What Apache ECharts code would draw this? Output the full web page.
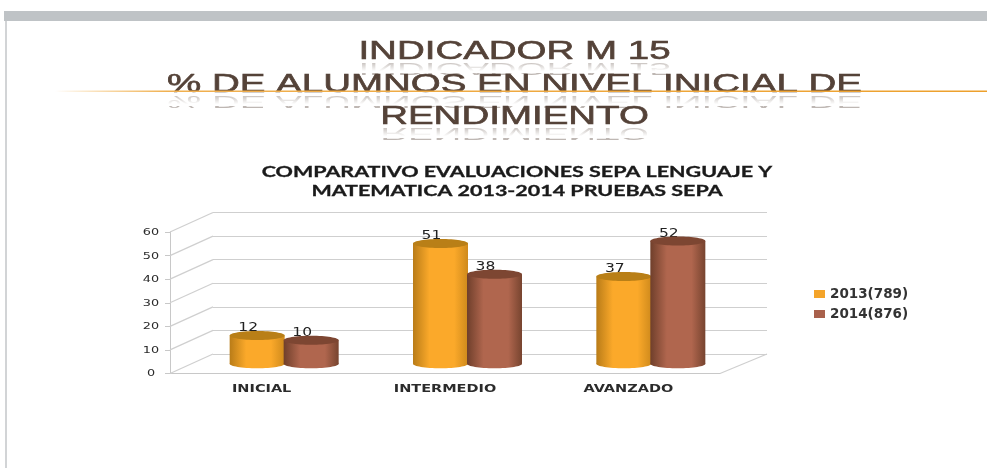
<!DOCTYPE html>
<html>
<head>
<meta charset="utf-8">
<style>
  html, body { margin: 0; padding: 0; background: #fff; }
  #chart { width: 987px; height: 468px; }
</style>
<script src="https://cdn.jsdelivr.net/npm/echarts@6/dist/echarts.min.js"></script>
</head>
<body>
<div id="chart"></div>
<script>
var categories = ['INICIAL', 'INTERMEDIO', 'AVANZADO']
var values2013 = [12, 51, 37]
var values2014 = [10, 38, 52]
var yTicks = [0, 10, 20, 30, 40, 50, 60]
var titleLines = ['INDICADOR M 15', '% DE ALUMNOS EN NIVEL INICIAL DE', 'RENDIMIENTO']
var subtitleLines = ['COMPARATIVO EVALUACIONES SEPA LENGUAJE Y', 'MATEMATICA 2013-2014 PRUEBAS SEPA']

// depth of the fake 3d floor
var DEPTH_X = 43
var DEPTH_Y = 19.5
var TITLE_FONT = '26px "Liberation Sans"'
var TITLE_COLOR = '#544238'
var LABEL_COLOR = '#2b2b2b'

function cylinder(side, colors, topColor) {
  return function (params, api) {
    var x = api.coord([api.value(0), 0])[0] + DEPTH_X / 2 + 1 + side * 27
    var y0 = api.coord([api.value(0), 0])[1] - DEPTH_Y / 2
    var y1 = api.coord([api.value(0), api.value(1)])[1] - DEPTH_Y / 2
    var fill = new echarts.graphic.LinearGradient(0, 0, 1, 0, [
      { offset: 0, color: colors[0] },
      { offset: 0.3, color: colors[1] },
      { offset: 0.75, color: colors[1] },
      { offset: 1, color: colors[2] }
    ])
    return {
      type: 'group',
      children: [
        { type: 'text', x: x - 9, y: y1 - 7, scaleX: 1.35, style: { x: 0, y: 0, text: String(api.value(1)), font: '11.5px "DejaVu Sans"', fill: '#222', align: 'center', verticalAlign: 'middle' } },
        { type: 'ellipse', shape: { cx: x, cy: y0, rx: 27.5, ry: 4.5 }, style: { fill: fill } },
        { type: 'rect', shape: { x: x - 27.5, y: y1, width: 55, height: y0 - y1 }, style: { fill: fill } },
        { type: 'ellipse', shape: { cx: x, cy: y1, rx: 27.5, ry: 4.5 }, style: { fill: topColor } }
      ]
    }
  }
}

// diagonal floor/side lines plus the stretched y tick labels
function depthLines(params, api) {
  var rect = params.coordSys
  var y = api.coord([0, api.value(0)])[1]
  var items = [
    {
      type: 'line',
      shape: { x1: rect.x, y1: y, x2: rect.x + DEPTH_X, y2: y - DEPTH_Y },
      style: { stroke: '#cfcfcf', lineWidth: 1.2 }
    },
    {
      type: 'text', x: 151, y: y + 0.5, scaleX: 1.35,
      style: { x: 0, y: 0, text: String(api.value(0)), font: '9.5px "DejaVu Sans"', fill: LABEL_COLOR, align: 'center', verticalAlign: 'middle' }
    }
  ]
  if (api.value(0) === 0) {
    items.push({
      type: 'line',
      shape: { x1: rect.x + rect.width, y1: y, x2: rect.x + rect.width + DEPTH_X + 4, y2: y - DEPTH_Y },
      style: { stroke: '#cfcfcf', lineWidth: 1.2 }
    })
  }
  return { type: 'group', children: items }
}

function categoryLabel(params, api) {
  var p = api.coord([api.value(0), 0])
  return {
    type: 'text', x: p[0], y: p[1] + 16, scaleX: 1.38,
    style: { x: 0, y: 0, text: categories[api.value(0)], font: 'bold 10.5px "DejaVu Sans"', fill: LABEL_COLOR, align: 'center', verticalAlign: 'middle' }
  }
}

function titleGraphics() {
  var baselines = [61, 94, 126]
  var out = []
  titleLines.forEach(function (text, i) {
    // reflection under the line, faded out by a white gradient on top
    out.push({
      type: 'text', x: 514.5, y: baselines[i] + 1, scaleX: 1.48, scaleY: -0.6, z: 2,
      style: { text: text, x: 0, y: -9, font: TITLE_FONT, fill: TITLE_COLOR, opacity: 0.38, align: 'center', verticalAlign: 'middle' }
    })
    out.push({
      type: 'rect', shape: { x: 60, y: baselines[i], width: 900, height: 12 }, z: 3,
      style: { fill: new echarts.graphic.LinearGradient(0, 0, 0, 1, [
        { offset: 0, color: 'rgba(255,255,255,0)' },
        { offset: 0.85, color: 'rgba(255,255,255,1)' },
        { offset: 1, color: 'rgba(255,255,255,1)' }
      ]) }
    })
  })
  titleLines.forEach(function (text, i) {
    out.push({
      type: 'text', x: 514.5, y: baselines[i], scaleX: 1.48, z: 5,
      style: { text: text, x: 0, y: -9, font: TITLE_FONT, fill: TITLE_COLOR, stroke: TITLE_COLOR, lineWidth: 0.6, align: 'center', verticalAlign: 'middle' }
    })
  })
  return out
}

var chart = echarts.init(document.getElementById('chart'), null, { renderer: 'canvas' })
chart.setOption({
  animation: false,
  backgroundColor: '#fff',
  graphic: [
    { type: 'rect', shape: { x: 4, y: 11, width: 983, height: 10 }, style: { fill: '#bfc3c6' }, z: 1 },
    { type: 'rect', shape: { x: 5, y: 21, width: 2, height: 447 }, style: { fill: '#d2d4d6' }, z: 1 },
    {
      type: 'rect', shape: { x: 55, y: 90.5, width: 932, height: 1.5 }, z: 6,
      style: { fill: new echarts.graphic.LinearGradient(0, 0, 1, 0, [
        { offset: 0, color: 'rgba(240,170,60,0)' },
        { offset: 0.12, color: '#f0b050' },
        { offset: 1, color: '#eda02c' }
      ]) }
    }
  ].concat(titleGraphics()).concat(subtitleLines.map(function (text, i) {
    return {
      type: 'text', x: 517, y: 172 + i * 19, scaleX: 1.48, z: 5,
      style: { text: text, x: 0, y: 0, font: 'bold 14.5px Lato', fill: '#1a1a1a', stroke: '#1a1a1a', lineWidth: 0.3, align: 'center', verticalAlign: 'middle' }
    }
  })),
  legend: {
    data: ['2013(789)', '2014(876)'],
    orient: 'vertical',
    left: 809,
    top: 282,
    itemWidth: 11,
    itemHeight: 8,
    itemGap: 6,
    icon: 'rect',
    textStyle: { fontFamily: 'DejaVu Sans', fontWeight: 'bold', fontSize: 13.5, color: '#333' }
  },
  grid: [
    { left: 170, top: 232, width: 550, height: 141.5 },
    { left: 213, top: 212.5, width: 554, height: 141.5 }
  ],
  xAxis: [
    {
      type: 'category',
      data: categories,
      gridIndex: 0,
      axisLine: { lineStyle: { color: '#c8c8c8' } },
      axisTick: { length: 4, lineStyle: { color: '#c8c8c8' } },
      axisLabel: { show: false }
    },
    { type: 'value', gridIndex: 1, min: 0, max: 1, show: false }
  ],
  yAxis: [
    {
      type: 'value',
      gridIndex: 0,
      min: 0,
      max: 60,
      interval: 10,
      axisLine: { show: true, lineStyle: { color: '#c8c8c8' } },
      axisTick: { show: true, length: 5, lineStyle: { color: '#c8c8c8' } },
      axisLabel: { show: false },
      splitLine: { show: false }
    },
    {
      type: 'value',
      gridIndex: 1,
      min: 0,
      max: 60,
      interval: 10,
      axisLine: { show: false },
      axisTick: { show: false },
      axisLabel: { show: false },
      splitLine: { show: true, lineStyle: { color: '#cfcfcf', width: 1.2 } }
    }
  ],
  series: [
    {
      type: 'custom',
      name: 'depth',
      silent: true,
      clip: false,
      xAxisIndex: 0,
      yAxisIndex: 0,
      renderItem: depthLines,
      encode: { y: 0 },
      data: yTicks.map(function (v) { return [v] }),
      z: 1
    },
    {
      type: 'custom',
      name: 'labels',
      silent: true,
      clip: false,
      xAxisIndex: 0,
      yAxisIndex: 0,
      renderItem: categoryLabel,
      encode: { x: 0 },
      data: categories.map(function (c, i) { return [i] }),
      z: 1
    },
    {
      type: 'custom',
      name: '2013(789)',
      clip: false,
      xAxisIndex: 0,
      yAxisIndex: 0,
      itemStyle: { color: '#f4a42a' },
      renderItem: cylinder(-1, ['#b97c18', '#fba92a', '#cf8a1c'], '#b97f17'),
      encode: { x: 0, y: 1 },
      data: values2013.map(function (v, i) { return [i, v] }),
      z: 3
    },
    {
      type: 'custom',
      name: '2014(876)',
      clip: false,
      xAxisIndex: 0,
      yAxisIndex: 0,
      itemStyle: { color: '#a9614c' },
      renderItem: cylinder(1, ['#6f3f2b', '#b0664e', '#77442f'], '#7d4632'),
      encode: { x: 0, y: 1 },
      data: values2014.map(function (v, i) { return [i, v] }),
      z: 4
    }
  ]
})
</script>
</body>
</html>
